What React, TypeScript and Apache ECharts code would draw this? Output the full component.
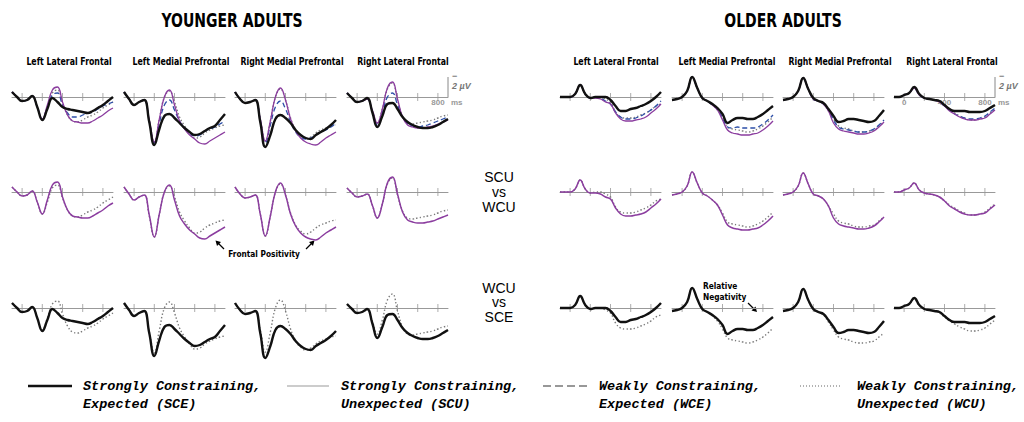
import React, { useEffect, useRef } from "react";
import * as echarts from "echarts";

// ---------- data ----------
const TIMES = [-100, -50, 0, 50, 100, 150, 200, 250, 300, 350, 400, 450, 500, 550, 600, 650, 700, 750, 800, 850, 900];
const TICK_TIMES = [0, 200, 400, 600, 800];
const REGIONS = ["Left Lateral Frontal", "Left Medial Prefrontal", "Right Medial Prefrontal", "Right Lateral Frontal"];
const GROUP_TITLES = ["YOUNGER ADULTS", "OLDER ADULTS"];
const ROW_CONDITIONS = [["WCU", "WCE", "SCU", "SCE"], ["WCU", "SCU"], ["WCU", "SCE"]];

// Younger adults (µV, positive plotted down)
const yLLF_SCE = [-0.5, 0.0, 0.4, 0.3, -0.1, 1.0, 2.3, 1.2, 0.1, 0.5, 1.0, 1.2, 1.3, 1.4, 1.5, 1.6, 1.4, 1.1, 0.8, 0.4, 0.0];
const yLLF_SCU = [-0.5, 0.0, 0.4, 0.3, -0.1, 1.0, 2.2, 0.8, -0.7, -1.0, 0.5, 1.8, 2.4, 2.5, 2.6, 2.6, 2.4, 2.1, 1.8, 1.4, 1.1];
const yLLF_WCE = [-0.5, 0.0, 0.4, 0.3, -0.1, 1.0, 2.2, 1.0, -0.2, -0.4, 0.8, 1.6, 2.0, 2.0, 1.8, 1.6, 1.5, 1.2, 0.9, 0.7, 0.5];
const yLLF_WCU = [-0.5, 0.0, 0.4, 0.3, -0.1, 1.0, 2.2, 1.0, -0.4, -0.7, 0.6, 1.8, 2.4, 2.5, 2.3, 2.0, 1.8, 1.5, 1.1, 0.8, 0.5];

const yLMPF_SCE = [-0.5, 0.2, 0.8, 0.5, 0.3, 2.5, 4.8, 3.2, 1.9, 1.7, 2.1, 2.6, 3.1, 3.5, 3.8, 3.7, 3.4, 3.1, 2.9, 2.3, 1.7];
const yLMPF_SCU = [-0.5, 0.2, 0.8, 0.5, 0.3, 2.3, 4.5, 2.2, 0.0, -0.7, 0.8, 2.4, 3.2, 3.8, 4.2, 4.6, 4.7, 4.4, 4.1, 3.8, 3.5];
const yLMPF_WCE = [-0.5, 0.2, 0.8, 0.5, 0.3, 2.4, 4.6, 2.6, 0.8, 0.3, 1.3, 2.4, 3.1, 3.6, 3.9, 3.8, 3.4, 3.2, 3.0, 2.7, 2.4];
const yLMPF_WCU = [-0.5, 0.2, 0.8, 0.5, 0.3, 2.4, 4.5, 2.2, 0.0, -0.6, 0.5, 2.0, 2.9, 3.6, 4.1, 4.0, 3.6, 3.3, 3.1, 2.9, 2.8];

const yRMPF_SCE = [-0.5, 0.2, 0.6, 0.5, 0.3, 2.5, 5.0, 3.8, 2.2, 1.8, 2.1, 2.6, 3.3, 3.8, 4.1, 4.2, 3.8, 3.5, 3.2, 2.8, 2.3];
const yRMPF_SCU = [-0.5, 0.2, 0.6, 0.5, 0.3, 2.2, 4.4, 2.4, 0.0, -0.9, 0.3, 2.2, 3.4, 4.1, 4.5, 4.7, 4.8, 4.5, 4.1, 3.8, 3.5];
const yRMPF_WCE = [-0.5, 0.2, 0.6, 0.5, 0.3, 2.3, 4.6, 2.8, 1.0, 0.4, 1.2, 2.5, 3.5, 4.0, 4.2, 4.1, 3.8, 3.5, 3.3, 3.0, 2.6];
const yRMPF_WCU = [-0.5, 0.2, 0.6, 0.5, 0.3, 2.2, 4.4, 2.4, 0.0, -0.8, 0.3, 2.1, 3.3, 3.9, 4.2, 4.0, 3.6, 3.3, 3.1, 2.9, 2.8];

const yRLF_SCE = [-0.4, 0.1, 0.5, 0.4, 0.1, 1.5, 3.0, 1.9, 0.7, 0.6, 1.2, 2.0, 2.5, 2.8, 3.0, 3.1, 3.1, 3.0, 2.8, 2.5, 2.2];
const yRLF_SCU = [-0.4, 0.1, 0.5, 0.4, 0.2, 1.3, 2.6, 1.2, -0.9, -1.5, 0.2, 2.0, 2.8, 3.0, 3.1, 3.1, 3.0, 2.9, 2.7, 2.5, 2.3];
const yRLF_WCE = [-0.4, 0.1, 0.5, 0.4, 0.2, 1.4, 2.8, 1.6, 0.0, -0.4, 0.8, 2.0, 2.7, 2.9, 3.0, 2.9, 2.8, 2.6, 2.4, 2.2, 2.0];
const yRLF_WCU = [-0.4, 0.1, 0.5, 0.4, 0.2, 1.3, 2.6, 1.2, -0.8, -1.4, 0.3, 1.9, 2.6, 2.7, 2.6, 2.5, 2.4, 2.3, 2.1, 1.9, 1.8];

// Older adults
const oLLF_SCE = [0.0, 0.0, 0.0, -0.3, -1.2, -0.3, 0.1, 0.0, 0.0, 0.0, 0.3, 0.9, 1.4, 1.4, 1.2, 1.1, 0.9, 0.7, 0.4, 0.0, -0.5];
const oLLF_SCU = [0.0, 0.0, 0.0, -0.3, -1.2, -0.3, 0.1, 0.1, 0.2, 0.5, 0.7, 1.6, 2.2, 2.4, 2.4, 2.3, 2.2, 2.0, 1.6, 1.2, 0.7];
const oLLF_WCE = [0.0, 0.0, 0.0, -0.3, -1.2, -0.3, 0.1, 0.0, 0.1, 0.4, 0.7, 1.5, 2.0, 2.2, 2.2, 2.1, 1.9, 1.6, 1.3, 0.9, 0.4];
const oLLF_WCU = [0.0, 0.0, 0.0, -0.3, -1.2, -0.3, 0.1, 0.0, 0.0, 0.2, 0.5, 1.5, 2.0, 2.1, 2.1, 2.0, 1.8, 1.6, 1.3, 0.9, 0.7];

const oLMPF_SCE = [0.3, 0.2, 0.0, -0.6, -2.0, -0.9, 0.1, 0.4, 0.7, 1.1, 1.7, 2.6, 2.3, 2.1, 2.1, 2.2, 2.2, 2.0, 1.7, 1.3, 0.9];
const oLMPF_SCU = [0.3, 0.2, 0.0, -0.6, -2.0, -0.9, 0.1, 0.4, 0.8, 1.3, 2.3, 3.3, 3.6, 3.7, 3.8, 3.8, 3.7, 3.6, 3.3, 2.9, 2.4];
const oLMPF_WCE = [0.3, 0.2, 0.0, -0.6, -2.0, -0.9, 0.1, 0.4, 0.8, 1.2, 2.1, 3.0, 3.1, 3.0, 3.1, 3.1, 3.1, 3.0, 2.7, 2.3, 1.8];
const oLMPF_WCU = [0.3, 0.2, 0.0, -0.6, -2.0, -0.9, 0.1, 0.4, 0.8, 1.3, 2.1, 3.0, 3.2, 3.3, 3.4, 3.5, 3.4, 3.2, 2.9, 2.5, 2.0];

const oRMPF_SCE = [0.3, 0.2, 0.0, -0.6, -1.9, -0.8, 0.1, 0.4, 0.6, 1.2, 1.9, 2.5, 2.4, 2.2, 2.2, 2.3, 2.4, 2.5, 2.4, 1.9, 1.3];
const oRMPF_SCU = [0.3, 0.2, 0.0, -0.6, -1.9, -0.8, 0.2, 0.4, 0.7, 1.4, 2.6, 3.2, 3.4, 3.5, 3.6, 3.7, 3.7, 3.6, 3.4, 3.0, 2.5];
const oRMPF_WCE = [0.3, 0.2, 0.0, -0.6, -1.9, -0.8, 0.2, 0.4, 0.7, 1.3, 2.3, 3.0, 3.2, 3.3, 3.4, 3.5, 3.5, 3.4, 3.2, 2.8, 2.3];
const oRMPF_WCU = [0.3, 0.2, 0.0, -0.6, -1.9, -0.8, 0.2, 0.4, 0.7, 1.4, 2.2, 2.9, 3.1, 3.2, 3.4, 3.5, 3.5, 3.4, 3.3, 2.9, 2.5];

const oRLF_SCE = [0.0, 0.0, -0.2, -0.4, -1.0, -0.3, 0.1, 0.2, 0.3, 0.4, 0.8, 1.2, 1.4, 1.4, 1.4, 1.5, 1.5, 1.5, 1.4, 1.1, 0.8];
const oRLF_SCU = [0.0, 0.0, -0.2, -0.4, -0.9, -0.2, 0.1, 0.2, 0.3, 0.5, 0.9, 1.4, 1.7, 2.0, 2.2, 2.3, 2.3, 2.2, 2.1, 1.7, 1.3];
const oRLF_WCE = [0.0, 0.0, -0.2, -0.4, -0.9, -0.2, 0.1, 0.2, 0.3, 0.5, 0.9, 1.3, 1.7, 1.9, 2.1, 2.2, 2.2, 2.1, 1.9, 1.5, 1.1];
const oRLF_WCU = [0.0, 0.0, -0.2, -0.4, -0.9, -0.2, 0.1, 0.2, 0.3, 0.5, 0.9, 1.3, 1.6, 1.9, 2.1, 2.3, 2.3, 2.2, 2.0, 1.6, 1.2];

const LEGEND_ITEMS = [
  ["SCE", "Strongly Constraining,", "Expected (SCE)"],
  ["SCU", "Strongly Constraining,", "Unexpected (SCU)"],
  ["WCE", "Weakly Constraining,", "Expected (WCE)"],
  ["WCU", "Weakly Constraining,", "Unexpected (WCU)"],
];

// table built from the named arrays
const PANEL_DATA: Record<string, number[]>[][] = [
  [
    { SCE: yLLF_SCE, SCU: yLLF_SCU, WCE: yLLF_WCE, WCU: yLLF_WCU },
    { SCE: yLMPF_SCE, SCU: yLMPF_SCU, WCE: yLMPF_WCE, WCU: yLMPF_WCU },
    { SCE: yRMPF_SCE, SCU: yRMPF_SCU, WCE: yRMPF_WCE, WCU: yRMPF_WCU },
    { SCE: yRLF_SCE, SCU: yRLF_SCU, WCE: yRLF_WCE, WCU: yRLF_WCU },
  ],
  [
    { SCE: oLLF_SCE, SCU: oLLF_SCU, WCE: oLLF_WCE, WCU: oLLF_WCU },
    { SCE: oLMPF_SCE, SCU: oLMPF_SCU, WCE: oLMPF_WCE, WCU: oLMPF_WCU },
    { SCE: oRMPF_SCE, SCU: oRMPF_SCU, WCE: oRMPF_WCE, WCU: oRMPF_WCU },
    { SCE: oRLF_SCE, SCU: oRLF_SCU, WCE: oRLF_WCE, WCU: oRLF_WCU },
  ],
];

// ---------- layout & style ----------
const GROUP_LEFTS = [
  [12, 124, 235, 347],
  [560, 672, 783, 894],
];
const ROW_BASELINES = [97, 192, 308];
const PANEL_W = 101;
const ABOVE = 25;
const GRID_H = 80;
const Y_MIN = -2.5;
const Y_MAX = 5.5;

const LINE_STYLES: Record<string, any> = {
  SCE: { color: "#111111", width: 2.4, type: "solid" },
  SCU: { color: "#8b3d9f", width: 1.3, type: "solid" },
  WCE: { color: "#2d4fa8", width: 1.3, type: [5, 3] },
  WCU: { color: "#7a7a7a", width: 1.4, type: [1.4, 2.2] },
};
const LEGEND_LINES: Record<string, any> = {
  SCE: { stroke: "#111", lineWidth: 2.5 },
  SCU: { stroke: "#999", lineWidth: 1 },
  WCE: { stroke: "#333", lineWidth: 1.2, lineDash: [8, 4] },
  WCU: { stroke: "#666", lineWidth: 1.2, lineDash: [1, 2] },
};

const CONDENSED = '"DejaVu Sans Condensed", "DejaVu Sans", sans-serif';

function buildOption() {
  const grids: any[] = [];
  const xAxes: any[] = [];
  const yAxes: any[] = [];
  const series: any[] = [];
  let idx = 0;
  for (let g = 0; g < 2; g++) {
    for (let row = 0; row < 3; row++) {
      for (let r = 0; r < 4; r++) {
        const left = GROUP_LEFTS[g][r];
        const top = ROW_BASELINES[row] - ABOVE;
        grids.push({ left, top, width: PANEL_W, height: GRID_H, containLabel: false });
        xAxes.push({
          type: "value", gridIndex: idx, min: -100, max: 900,
          axisLine: { show: true, onZero: true, lineStyle: { color: "#999", width: 1 } },
          axisTick: { show: false }, axisLabel: { show: false }, splitLine: { show: false },
        });
        yAxes.push({
          type: "value", gridIndex: idx, min: Y_MIN, max: Y_MAX, inverse: true, show: false,
          splitLine: { show: false },
        });
        series.push({
          type: "scatter", xAxisIndex: idx, yAxisIndex: idx, silent: true,
          symbol: "rect", symbolSize: [1, 8], itemStyle: { color: "#999" }, z: 1,
          data: TICK_TIMES.map((t) => [t, 0]),
        });
        ROW_CONDITIONS[row].forEach((c, k) => {
          const vals = PANEL_DATA[g][r][c];
          const ls = { ...LINE_STYLES[c] };
          if (row === 1 && c === "SCU") ls.width = 1.5;
          series.push({
            type: "line", name: c, xAxisIndex: idx, yAxisIndex: idx, silent: true,
            symbol: "none", smooth: 0.45, clip: false, z: 2 + k,
            lineStyle: ls,
            data: TIMES.map((t, i) => [t, vals[i]]),
          });
        });
        idx++;
      }
    }
  }

  const graphic: any[] = [];
  // group titles
  const groupCenters = [232, 783];
  GROUP_TITLES.forEach((t, g) => {
    graphic.push({
      type: "text", x: groupCenters[g], y: 20, scaleX: 0.82,
      style: { text: t, font: `bold 19px ${CONDENSED}`, fill: "#000", textAlign: "center", textVerticalAlign: "middle" },
    });
  });
  // panel titles
  const titleCenters = [
    [69, 181, 292, 403],
    [616, 727, 840, 952],
  ];
  for (let g = 0; g < 2; g++) {
    REGIONS.forEach((name, r) => {
      graphic.push({
        type: "text", x: titleCenters[g][r], y: 61, scaleX: 0.87,
        style: { text: name, font: `bold 10px ${CONDENSED}`, fill: "#000", textAlign: "center", textVerticalAlign: "middle" },
      });
    });
  }
  // comparison labels
  graphic.push({
    type: "text", x: 499, y: 192,
    style: { text: "SCU\nvs\nWCU", font: '14px "Liberation Sans", Arial, sans-serif', lineHeight: 15, fill: "#000", textAlign: "center", textVerticalAlign: "middle" },
  });
  graphic.push({
    type: "text", x: 499, y: 302,
    style: { text: "WCU\nvs\nSCE", font: '14px "Liberation Sans", Arial, sans-serif', lineHeight: 14.5, fill: "#000", textAlign: "center", textVerticalAlign: "middle" },
  });
  // annotations
  graphic.push({
    type: "text", x: 264, y: 254, scaleX: 0.87,
    style: { text: "Frontal Positivity", font: `bold 9.5px ${CONDENSED}`, fill: "#000", textAlign: "center", textVerticalAlign: "middle" },
  });
  graphic.push({ type: "line", shape: { x1: 224, y1: 249, x2: 217, y2: 242 }, style: { stroke: "#000", lineWidth: 1.2 } });
  graphic.push({ type: "polygon", shape: { points: [[215.5, 240.5], [221, 242], [217, 246]] }, style: { fill: "#000" } });
  graphic.push({ type: "line", shape: { x1: 306, y1: 249, x2: 313, y2: 242 }, style: { stroke: "#000", lineWidth: 1.2 } });
  graphic.push({ type: "polygon", shape: { points: [[314.5, 240.5], [309, 242], [313, 246]] }, style: { fill: "#000" } });

  graphic.push({
    type: "text", x: 703, y: 291, scaleX: 0.87,
    style: { text: "Relative\nNegativity", font: `bold 9.5px ${CONDENSED}`, lineHeight: 11, fill: "#000", textAlign: "left", textVerticalAlign: "middle" },
  });
  graphic.push({ type: "line", shape: { x1: 748, y1: 303, x2: 755, y2: 310 }, style: { stroke: "#000", lineWidth: 1.2 } });
  graphic.push({ type: "polygon", shape: { points: [[757, 312], [751.5, 310.5], [755.5, 306.5]] }, style: { fill: "#000" } });

  // scale bars and time labels (on right-most top panels)
  const barX = [GROUP_LEFTS[0][3] + PANEL_W, GROUP_LEFTS[1][3] + PANEL_W];
  const tickPx = (g: number, t: number) => GROUP_LEFTS[g][3] + ((t + 100) / 1000) * PANEL_W;
  for (let g = 0; g < 2; g++) {
    const bx = barX[g];
    graphic.push({ type: "line", shape: { x1: bx, y1: 77, x2: bx, y2: 97 }, style: { stroke: "#888", lineWidth: 1 } });
    graphic.push({
      type: "text", x: bx + 4, y: 76,
      style: { text: "−", font: "bold 9px sans-serif", fill: "#777", textAlign: "left", textVerticalAlign: "middle" },
    });
    graphic.push({
      type: "text", x: bx + 4, y: 86,
      style: { text: "2 µV", font: "bold italic 9px sans-serif", fill: "#777", textAlign: "left", textVerticalAlign: "middle" },
    });
    const labels = g === 0 ? [[800, "800"]] : [[0, "0"], [400, "400"], [800, "800"]];
    labels.forEach(([t, s]: any) => {
      graphic.push({
        type: "text", x: tickPx(g, t), y: 102,
        style: { text: s, font: "bold 8px sans-serif", fill: "#999", textAlign: "center", textVerticalAlign: "middle" },
      });
    });
    graphic.push({
      type: "text", x: bx + 3, y: 102,
      style: { text: "ms", font: "bold 8px sans-serif", fill: "#999", textAlign: "left", textVerticalAlign: "middle" },
    });
  }

  // legend
  const legendLineX = [[28, 72], [287, 329], [543, 587], [800, 840]];
  const legendTextX = [83, 341, 599, 857];
  LEGEND_ITEMS.forEach(([c, l1, l2], i) => {
    graphic.push({
      type: "line", shape: { x1: legendLineX[i][0], y1: 386, x2: legendLineX[i][1], y2: 386 },
      style: { ...LEGEND_LINES[c] },
    });
    graphic.push({
      type: "text", x: legendTextX[i], y: 395,
      style: {
        text: `${l1}\n${l2}`, font: 'italic bold 13.5px "Liberation Mono", "Courier New", monospace',
        lineHeight: 18, fill: "#000", textAlign: "left", textVerticalAlign: "middle",
      },
    });
  });

  return {
    animation: false,
    backgroundColor: "#ffffff",
    grid: grids,
    xAxis: xAxes,
    yAxis: yAxes,
    series,
    graphic,
  };
}

export default function App() {
  const ref = useRef<HTMLDivElement>(null);
  useEffect(() => {
    if (!ref.current) return;
    const chart = echarts.init(ref.current, null, { renderer: "svg" });
    chart.setOption(buildOption());
    return () => chart.dispose();
  }, []);
  return (
    <div
      ref={ref}
      style={{ position: "fixed", left: 0, top: 0, width: 1024, height: 422, background: "#fff" }}
    />
  );
}
